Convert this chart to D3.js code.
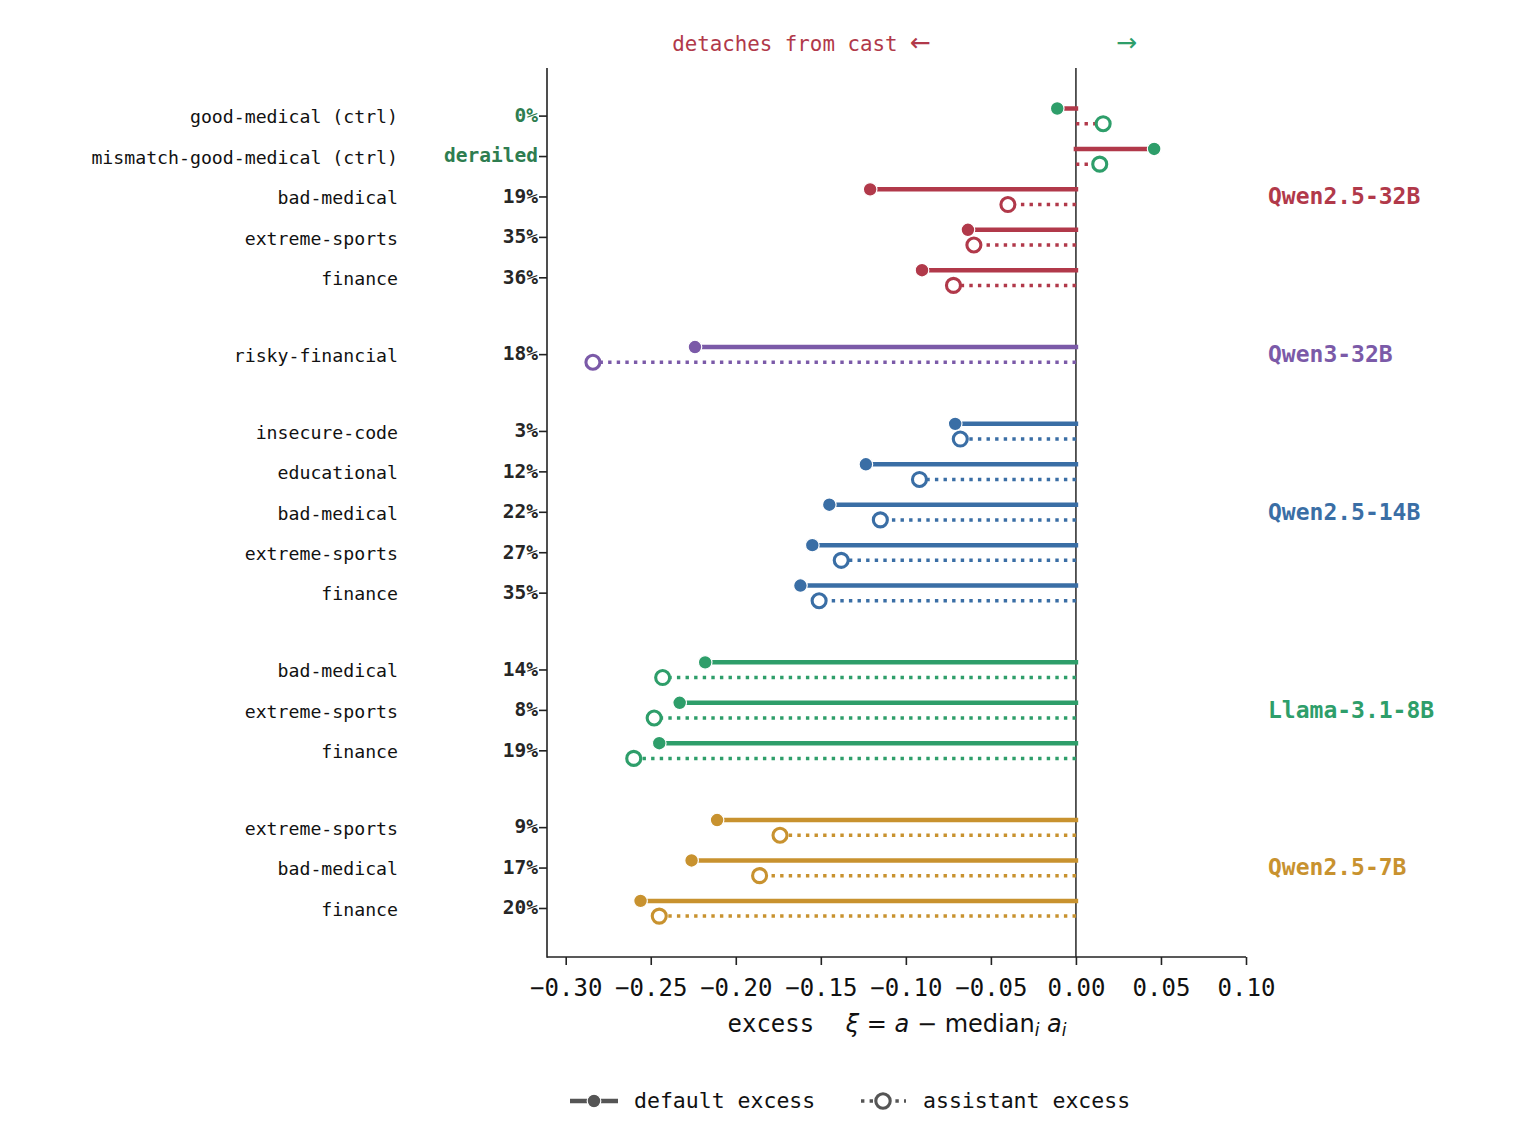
<!DOCTYPE html>
<html><head><meta charset="utf-8">
<script src="https://cdn.jsdelivr.net/npm/d3@7/dist/d3.min.js"></script>
<style>
body{margin:0;background:#fff;}
svg{display:block;}
text{font-family:"DejaVu Sans Mono",monospace;}
</style></head>
<body><svg id="chart" width="1520" height="1140"></svg>
<script>
// ---- data ----
const models = ["Qwen2.5-32B","Qwen3-32B","Qwen2.5-14B","Llama-3.1-8B","Qwen2.5-7B"];
const modelColors = ["#b1394a","#7b5aa8","#3a6ea5","#2e9e6a","#c8922f"];
const rowModel = [0,0,0,0,0, 1, 2,2,2,2,2, 3,3,3, 4,4,4];
const rowLabels = ["good-medical (ctrl)","mismatch-good-medical (ctrl)","bad-medical","extreme-sports","finance",
  "risky-financial",
  "insecure-code","educational","bad-medical","extreme-sports","finance",
  "bad-medical","extreme-sports","finance",
  "extreme-sports","bad-medical","finance"];
const rowRates = ["0%","derailed","19%","35%","36%","18%","3%","12%","22%","27%","35%","14%","8%","19%","9%","17%","20%"];
const rowCtrl = [true,true,false,false,false,false,false,false,false,false,false,false,false,false,false,false,false];
const defaultExcess = [-0.011,0.046,-0.121,-0.0635,-0.0905,-0.224,-0.071,-0.1235,-0.145,-0.155,-0.162,-0.218,-0.233,-0.245,-0.211,-0.226,-0.256];
const assistantExcess = [0.016,0.014,-0.040,-0.060,-0.072,-0.284,-0.068,-0.092,-0.115,-0.138,-0.151,-0.243,-0.248,-0.260,-0.174,-0.186,-0.245];
const xTicks = [-0.30,-0.25,-0.20,-0.15,-0.10,-0.05,0.00,0.05,0.10];
const ctrlGreen = "#2e9e6a";
const ctrlLabelGreen = "#2e7d50";

(function(){
// ---- layout ----
const svg = d3.select("#chart");
const L=547, R=1246, T=68, B=957;
const x = d3.scaleLinear().domain([-0.311,0.10]).range([L,R]);

// y positions: 1 unit within group, 1.9 units between groups
const pos = [];
let p = 0;
rowModel.forEach((m,i)=>{ if(i>0){ p += (m===rowModel[i-1]) ? 1 : 1.9; } pos.push(p); });
const y = d3.scaleLinear().domain([-1.19, p+1.2]).range([T,B]);
const off = 7.6;

const rows = rowLabels.map((l,i)=>({i,label:l,rate:rowRates[i],m:rowModel[i],ctrl:rowCtrl[i],d:defaultExcess[i],a:assistantExcess[i],y:y(pos[i])}));

// zero line
svg.append("line").attr("x1",x(0)).attr("x2",x(0)).attr("y1",T).attr("y2",B)
  .attr("stroke","#333").attr("stroke-width",1.6);

// axes
const xAxis = d3.axisBottom(x).tickValues(xTicks).tickFormat(d=>d3.format(".2f")(d).replace("-","\u2212")).tickSize(8).tickPadding(14);
const gx = svg.append("g").attr("transform",`translate(0,${B})`).call(xAxis);
gx.select(".domain").attr("stroke","#222").attr("stroke-width",1.6).attr("d",`M${L},0H${R}`);
gx.selectAll(".tick line").attr("stroke","#222").attr("stroke-width",1.6);
gx.selectAll(".tick text").attr("font-family","DejaVu Sans Mono").attr("font-size",24).attr("fill","#111");

svg.append("line").attr("x1",L).attr("x2",L).attr("y1",T).attr("y2",B+0.8)
  .attr("stroke","#222").attr("stroke-width",1.6);
// y ticks
svg.selectAll(".ytick").data(rows).join("line").attr("class","ytick")
  .attr("x1",L-8).attr("x2",L).attr("y1",d=>d.y).attr("y2",d=>d.y)
  .attr("stroke","#222").attr("stroke-width",1.6);
svg.selectAll(".yrate").data(rows).join("text").attr("class","yrate")
  .attr("x",L-9).attr("y",d=>d.y).attr("dy","0.3em").attr("text-anchor","end")
  .attr("font-size",19.5).attr("font-weight","bold")
  .attr("fill",d=>d.ctrl?ctrlLabelGreen:"#262626").text(d=>d.rate);
svg.selectAll(".ylab").data(rows).join("text").attr("class","ylab")
  .attr("x",398).attr("y",d=>d.y+1.5).attr("dy","0.32em").attr("text-anchor","end")
  .attr("font-size",18.2).attr("fill","#111").text(d=>d.label);

// lines
svg.selectAll(".dline").data(rows).join("line").attr("class","dline")
  .attr("x1",d=>x(d.d)).attr("x2",x(0)).attr("y1",d=>d.y-off).attr("y2",d=>d.y-off)
  .attr("stroke",d=>modelColors[d.m]).attr("stroke-width",4.5).attr("stroke-linecap","square");
svg.selectAll(".aline").data(rows).join("line").attr("class","aline")
  .attr("x1",x(0)).attr("x2",d=>x(d.a)).attr("y1",d=>d.y+off).attr("y2",d=>d.y+off)
  .attr("stroke",d=>modelColors[d.m]).attr("stroke-width",3.5).attr("stroke-dasharray","3.4,5.2");
// markers
svg.selectAll(".dmark").data(rows).join("circle").attr("class","dmark")
  .attr("cx",d=>x(d.d)).attr("cy",d=>d.y-off).attr("r",6.8)
  .attr("fill",d=>d.ctrl?ctrlGreen:modelColors[d.m]).attr("stroke","#fff").attr("stroke-width",1.2);
svg.selectAll(".amark").data(rows).join("circle").attr("class","amark")
  .attr("cx",d=>x(d.a)).attr("cy",d=>d.y+off).attr("r",7)
  .attr("fill","#fff").attr("stroke",d=>d.ctrl?ctrlGreen:modelColors[d.m]).attr("stroke-width",3.1);

// group labels
models.forEach((m,k)=>{
  const ys = rows.filter(r=>r.m===k).map(r=>r.y);
  svg.append("text").attr("x",1268).attr("y",(d3.min(ys)+d3.max(ys))/2).attr("dy","0.32em")
    .attr("font-size",23).attr("font-weight","bold").attr("fill",modelColors[k]).text(m);
});

// top annotations
const t1 = svg.append("text").attr("x",931).attr("y",44).attr("dy","0.32em").attr("text-anchor","end")
  .attr("font-size",20.8).attr("fill",modelColors[0]);
t1.append("tspan").attr("xml:space","preserve").text("detaches from cast ");
t1.append("tspan").attr("font-family","DejaVu Sans").attr("font-size",25).text("\u2190");
const t2 = svg.append("text").attr("x",1116).attr("y",44).attr("dy","0.32em").attr("text-anchor","start")
  .attr("font-size",20.8).attr("fill",ctrlGreen);
t2.append("tspan").attr("font-family","DejaVu Sans").attr("font-size",25).text("\u2192");

// x label
const xl = svg.append("text").attr("x",897).attr("y",1024).attr("dy","0.32em").attr("text-anchor","middle")
  .attr("font-size",24).attr("fill","#111");
xl.append("tspan").attr("font-family","DejaVu Sans Mono").text("excess");
xl.append("tspan").attr("font-family","DejaVu Sans").attr("xml:space","preserve").text("\u2003 ");
xl.append("tspan").attr("font-family","DejaVu Sans").attr("font-style","italic").text("\u03BE");
xl.append("tspan").attr("font-family","DejaVu Sans").text(" = ");
xl.append("tspan").attr("font-family","DejaVu Sans").attr("font-style","italic").text("a");
xl.append("tspan").attr("font-family","DejaVu Sans").text(" \u2212 median");
xl.append("tspan").attr("font-family","DejaVu Sans").attr("font-style","italic").attr("font-size",17).attr("dy","0.25em").text("i");
xl.append("tspan").attr("font-family","DejaVu Sans").attr("font-style","italic").attr("dy","-0.18em").text(" a");
xl.append("tspan").attr("font-family","DejaVu Sans").attr("font-style","italic").attr("font-size",17).attr("dy","0.25em").text("i");

// legend
const lg = svg.append("g");
const gray="#555";
lg.append("line").attr("x1",570).attr("x2",618).attr("y1",1101).attr("y2",1101).attr("stroke",gray).attr("stroke-width",4.5);
lg.append("circle").attr("cx",594).attr("cy",1101).attr("r",6.8).attr("fill",gray).attr("stroke","#fff").attr("stroke-width",1.2);
lg.append("text").attr("x",634).attr("y",1101).attr("dy","0.32em").attr("font-size",21.5).attr("fill","#111").text("default excess");
lg.append("line").attr("x1",861).attr("x2",906).attr("y1",1101).attr("y2",1101).attr("stroke",gray).attr("stroke-width",3.5).attr("stroke-dasharray","3.4,5.2");
lg.append("circle").attr("cx",883).attr("cy",1101).attr("r",7.2).attr("fill","#fff").attr("stroke",gray).attr("stroke-width",3.1);
lg.append("text").attr("x",923).attr("y",1101).attr("dy","0.32em").attr("font-size",21.5).attr("fill","#111").text("assistant excess");
})();
</script></body></html>
